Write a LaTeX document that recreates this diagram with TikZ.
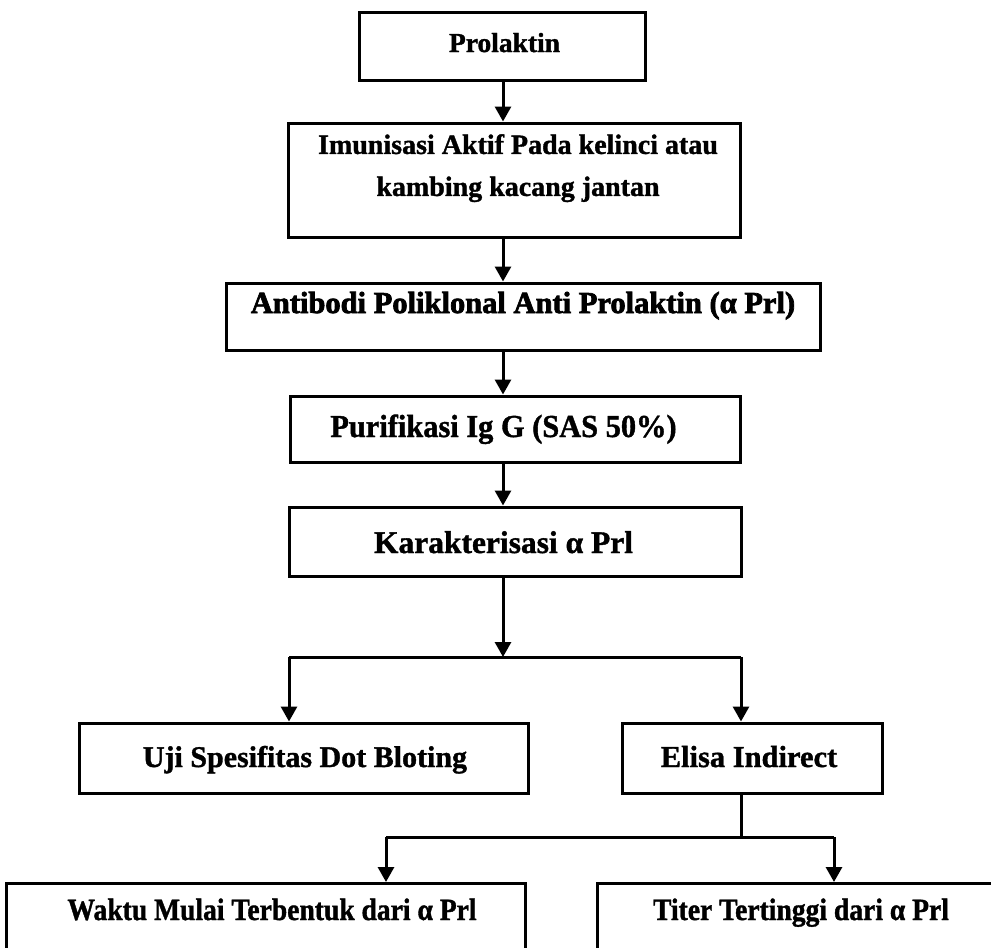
\documentclass[tikz,border=0pt]{standalone}
\usepackage{fontspec}
\setmainfont{Liberation Serif}
\newfontfamily\rg{Liberation Serif}[FakeBold=1.2]
\newfontfamily\condA{Liberation Serif}[FakeStretch=0.95,FakeBold=1.2]
\newfontfamily\condB{Liberation Serif}[FakeStretch=0.89,FakeBold=1.2]
\newfontfamily\heavy{Liberation Serif}[FakeBold=2.4]
\usetikzlibrary{arrows.meta}
\newcommand\fsz[1]{\fontsize{#1}{1.5\dimexpr#1pt\relax}\selectfont\bfseries}
\begin{document}
\begin{tikzpicture}[x=1pt,y=-1pt,
  box/.style={draw, line width=3pt, inner sep=0pt},
  tx/.style={inner sep=0pt, anchor=base},
  arr/.style={line width=3pt, -{Triangle[length=15pt,width=16pt]}},
  ln/.style={line width=3pt}]
\path[use as bounding box, clip] (0,0) rectangle (991,948);
\fill[white] (0,0) rectangle (991,948);
% boxes
\node[box, minimum width=286pt, minimum height=68pt] (pro) at (502,46) {};
\node[tx, font=\rg\fsz{27.5}] (prot) at (504.5,52) {Prolaktin};
\node[box, minimum width=452pt, minimum height=114pt] (imu) at (514,180) {};
\node[inner sep=0pt, align=center, anchor=north, font=\rg\fontsize{28}{42}\selectfont\bfseries] (imut) at (518,134) {Imunisasi Aktif Pada kelinci atau\\kambing kacang jantan};
\node[box, minimum width=594pt, minimum height=67pt] (anti) at (523,316.5) {};
\node[tx, font=\heavy\fsz{30.5}] (antit) at (523,313) {Antibodi Poliklonal Anti Prolaktin (α Prl)};
\node[box, minimum width=450pt, minimum height=66pt] (puri) at (515,429) {};
\node[tx, font=\condA\fsz{32}] (purit) at (503.5,437) {Purifikasi Ig G (SAS 50\%)};
\node[box, minimum width=452pt, minimum height=69pt] (kar) at (515,541.5) {};
\node[tx, font=\rg\fsz{31.5}] (kart) at (503.5,553) {Karakterisasi α Prl};
\node[box, minimum width=449pt, minimum height=70pt] (uji) at (303.5,758) {};
\node[tx, font=\rg\fsz{30}] (ujit) at (305,767) {Uji Spesifitas Dot Bloting};
\node[box, minimum width=260pt, minimum height=70pt] (eli) at (752,758) {};
\node[tx, font=\rg\fsz{30.5}] (elit) at (749,767) {Elisa Indirect};
\node[box, anchor=north, minimum width=519pt, minimum height=140pt] (wak) at (265.5,882) {};
\node[tx, font=\condB\fsz{31}] (wakt) at (272,920) {Waktu Mulai Terbentuk dari α Prl};
\node[box, anchor=north, minimum width=408pt, minimum height=140pt] (tit) at (801,882) {};
\node[tx, font=\condB\fsz{31}] (titt) at (801,920) {Titer Tertinggi dari α Prl};
% spine
\coordinate (sp) at (503,0);
\draw[arr] (sp |- pro.south) -- (sp |- imu.north);
\draw[arr] (sp |- imu.south) -- (sp |- anti.north);
\draw[arr] (sp |- anti.south) -- (sp |- puri.north);
\draw[arr] (sp |- puri.south) -- (sp |- kar.north);
\coordinate (bm) at (503,657);
\coordinate (bl) at (289,657);
\coordinate (br) at (741,657);
\draw[arr] (sp |- kar.south) -- (bm);
\draw[ln] (bl) -- (br);
\draw[arr] (bl) -- (bl |- uji.north);
\draw[arr] (br) -- (br |- eli.north);
\coordinate (lm) at (741,837);
\coordinate (ll) at (386,837);
\coordinate (lr) at (834,837);
\draw[ln] (lm |- eli.south) -- (lm);
\draw[ln] (ll) -- (lr);
\draw[arr] (ll) -- (ll |- wak.north);
\draw[arr] (lr) -- (lr |- tit.north);
\end{tikzpicture}
\end{document}
